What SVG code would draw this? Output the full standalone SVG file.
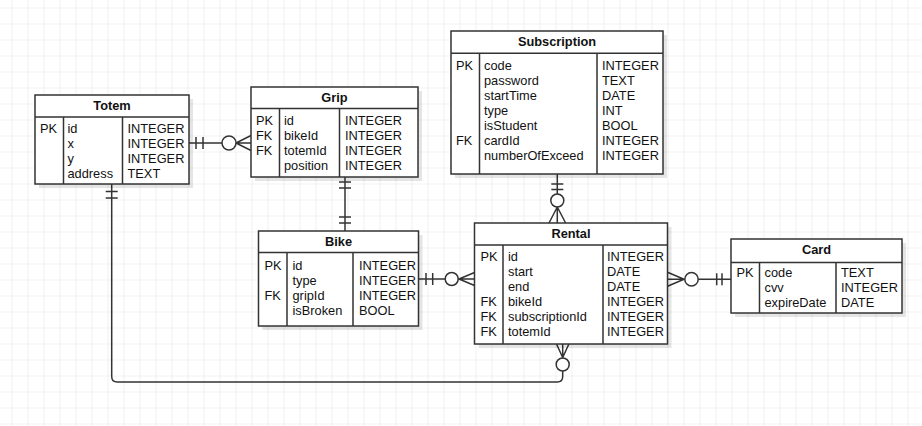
<svg xmlns="http://www.w3.org/2000/svg" width="922" height="426" viewBox="0 0 922 426">
<defs>
<pattern id="grid" patternUnits="userSpaceOnUse" x="11.5" y="7.5" width="16" height="16">
<path d="M0 0H16M0 0V16" fill="none" stroke="#e6e6e6" stroke-width="1.2"/>
</pattern>
</defs>
<style>
.bg{fill:#fff}
.sh{fill:#000;fill-opacity:0.1}
.box{fill:#fff;stroke:#333;stroke-width:1.5}
.ln{fill:none;stroke:#333;stroke-width:1.5}
.c{fill:#fff;stroke:#333;stroke-width:1.5}
text{font-family:"Liberation Sans",Arial,Helvetica,sans-serif;font-size:12.8px;fill:#111}
.h{font-weight:bold;text-anchor:middle}
</style>
<rect class="bg" width="922" height="426"/>
<rect width="922" height="426" fill="url(#grid)"/>

<g id="connectors">
<!-- Totem - Grip -->
<path class="ln" d="M189 143H251M196 137V149M203 137V149M236 143L251 135.5M236 143L251 150.5"/>
<circle class="c" cx="229" cy="143" r="7"/>
<!-- Grip - Bike -->
<path class="ln" d="M345 177V231M339 182H351M339 188H351M339 217H351M339 223H351"/>
<!-- Subscription - Rental -->
<path class="ln" d="M557.3 174V223M551.3 184H563.3M551.3 189.5H563.3M557.3 207L549 223M557.3 207L565.6 223"/>
<circle class="c" cx="557.3" cy="200.5" r="6.5"/>
<!-- Bike - Rental -->
<path class="ln" d="M418.5 279H474.5M426 273V285M432.7 273V285M459 279L474.5 272.5M459 279L474.5 285.5"/>
<circle class="c" cx="451.7" cy="279" r="6.5"/>
<!-- Rental - Card -->
<path class="ln" d="M667.5 279.3H731M716.7 273.3V285.3M722 273.3V285.3M684 279.3L667.5 272.3M684 279.3L667.5 286.3"/>
<circle class="c" cx="691.5" cy="279.3" r="6.7"/>
<!-- Totem - Rental -->
<path class="ln" d="M111.7 184V376.5Q111.7 382 117.2 382H557.2Q562.7 382 562.7 376.5V344M105.7 191.5H117.7M105.7 198H117.7M562.7 357.5L556.5 344M562.7 357.5L568.9 344"/>
<circle class="c" cx="562.7" cy="364.5" r="6.5"/>
</g>

<g id="totem">
<rect class="sh" x="39" y="99" width="154" height="89"/>
<rect class="box" x="35" y="95" width="154" height="89"/>
<path class="ln" d="M35 117H189M63.5 117V184M122.5 117V184"/>
<text class="h" x="112" y="110">Totem</text>
<text x="40" y="133">PK</text>
<text x="67.5" y="133">id</text><text x="67.5" y="148">x</text><text x="67.5" y="163">y</text><text x="67.5" y="178">address</text>
<text x="127.5" y="133">INTEGER</text><text x="127.5" y="148">INTEGER</text><text x="127.5" y="163">INTEGER</text><text x="127.5" y="178">TEXT</text>
</g>

<g id="grip">
<rect class="sh" x="255" y="91" width="167" height="90"/>
<rect class="box" x="251" y="87" width="167" height="90"/>
<path class="ln" d="M251 108.5H418M279.5 108.5V177M339.5 108.5V177"/>
<text class="h" x="334.5" y="101.7">Grip</text>
<text x="256" y="125.3">PK</text><text x="256" y="140.3">FK</text><text x="256" y="155.3">FK</text>
<text x="284" y="125.3">id</text><text x="284" y="140.3">bikeId</text><text x="284" y="155.3">totemId</text><text x="284" y="170.3">position</text>
<text x="345" y="125.3">INTEGER</text><text x="345" y="140.3">INTEGER</text><text x="345" y="155.3">INTEGER</text><text x="345" y="170.3">INTEGER</text>
</g>

<g id="subscription">
<rect class="sh" x="455" y="35" width="212" height="143"/>
<rect class="box" x="451" y="31" width="212" height="143"/>
<path class="ln" d="M451 53.3H663M479.5 53.3V174M597 53.3V174"/>
<text class="h" x="557" y="45.7">Subscription</text>
<text x="456" y="70">PK</text><text x="456" y="145">FK</text>
<text x="484" y="70">code</text><text x="484" y="85">password</text><text x="484" y="100">startTime</text><text x="484" y="115">type</text><text x="484" y="130">isStudent</text><text x="484" y="145">cardId</text><text x="484" y="160">numberOfExceed</text>
<text x="602" y="70">INTEGER</text><text x="602" y="85">TEXT</text><text x="602" y="100">DATE</text><text x="602" y="115">INT</text><text x="602" y="130">BOOL</text><text x="602" y="145">INTEGER</text><text x="602" y="160">INTEGER</text>
</g>

<g id="bike">
<rect class="sh" x="262.5" y="235" width="160" height="95"/>
<rect class="box" x="258.5" y="231" width="160" height="95"/>
<path class="ln" d="M258.5 252.5H418.5M287 252.5V326M353 252.5V326"/>
<text class="h" x="338.5" y="245.7">Bike</text>
<text x="264.5" y="269.5">PK</text><text x="264.5" y="299.5">FK</text>
<text x="292.5" y="269.5">id</text><text x="292.5" y="284.5">type</text><text x="292.5" y="299.5">gripId</text><text x="292.5" y="314.5">isBroken</text>
<text x="359" y="269.5">INTEGER</text><text x="359" y="284.5">INTEGER</text><text x="359" y="299.5">INTEGER</text><text x="359" y="314.5">BOOL</text>
</g>

<g id="rental">
<rect class="sh" x="478.5" y="227" width="193" height="121"/>
<rect class="box" x="474.5" y="223" width="193" height="121"/>
<path class="ln" d="M474.5 245H667.5M503 245V344M603 245V344"/>
<text class="h" x="571" y="238.3">Rental</text>
<text x="480.5" y="261">PK</text><text x="480.5" y="306">FK</text><text x="480.5" y="321">FK</text><text x="480.5" y="336">FK</text>
<text x="508" y="261">id</text><text x="508" y="276">start</text><text x="508" y="291">end</text><text x="508" y="306">bikeId</text><text x="508" y="321">subscriptionId</text><text x="508" y="336">totemId</text>
<text x="607" y="261">INTEGER</text><text x="607" y="276">DATE</text><text x="607" y="291">DATE</text><text x="607" y="306">INTEGER</text><text x="607" y="321">INTEGER</text><text x="607" y="336">INTEGER</text>
</g>

<g id="card">
<rect class="sh" x="735" y="243" width="171" height="74"/>
<rect class="box" x="731" y="239" width="171" height="74"/>
<path class="ln" d="M731 262.5H902M759.5 262.5V313M836 262.5V313"/>
<text class="h" x="816.5" y="254">Card</text>
<text x="736.5" y="276.7">PK</text>
<text x="764.5" y="276.7">code</text><text x="764.5" y="291.7">cvv</text><text x="764.5" y="306.7">expireDate</text>
<text x="841" y="276.7">TEXT</text><text x="841" y="291.7">INTEGER</text><text x="841" y="306.7">DATE</text>
</g>
</svg>
